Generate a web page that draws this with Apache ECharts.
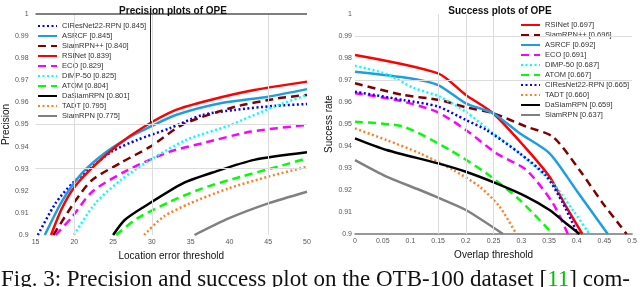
<!DOCTYPE html>
<html><head><meta charset="utf-8">
<script src="https://cdn.jsdelivr.net/npm/echarts@6/dist/echarts.min.js"></script>
<style>html,body{margin:0;padding:0;background:#fff}#c{width:640px;height:287px}</style>
</head><body><div id="c"></div>
<script>
// ---------- Precision plot data (x = location error threshold, y = precision) ----------
const precNames = ['CIResNet22-RPN [0.845]','ASRCF [0.845]','SiamRPN++ [0.840]','RSINet [0.839]','ECO [0.829]','DiMP-50 [0.825]','ATOM [0.804]','DaSiamRPN [0.801]','TADT [0.795]','SiamRPN [0.775]'];
const precX_CIRes = [15.3,17.6,19.75,21.8,24.8,28.1,32.3,36.5,40.7,45.7,50];
const precY_CIRes = [0.9,0.9145,0.9234,0.9294,0.9377,0.943,0.9483,0.9543,0.9566,0.9584,0.9593];
const precX_ASRCF = [16.2,18.5,21.0,23.9,26.9,29.8,33.1,39.0,45.0,50];
const precY_ASRCF = [0.9,0.9158,0.928,0.937,0.9439,0.949,0.9543,0.9597,0.9626,0.966];
const precX_SiamPP = [17.3,20.2,22.3,26.0,29.8,34.1,40.7,46.2,50];
const precY_SiamPP = [0.9,0.9158,0.9249,0.9327,0.94,0.9502,0.958,0.9618,0.9634];
const precX_RSINet = [17.0,18.3,19.75,21.8,25.6,29.0,33.1,37.4,43.2,50];
const precY_RSINet = [0.9,0.9113,0.9204,0.9287,0.9407,0.949,0.9566,0.961,0.9656,0.9694];
const precX_ECO = [17.6,19.75,22.3,26.9,32.3,36.5,42.8,50];
const precY_ECO = [0.9,0.9083,0.9196,0.9294,0.9377,0.9415,0.9468,0.9498];
const precX_DiMP = [19.95,22.7,26.0,29.8,34.4,39.9,45.7,50];
const precY_DiMP = [0.9,0.9143,0.9249,0.934,0.943,0.9495,0.958,0.9634];
const precX_ATOM = [25.4,28.1,32.3,36.5,41.5,46.2,50];
const precY_ATOM = [0.9,0.9075,0.915,0.9211,0.9264,0.9309,0.9347];
const precX_DaSiam = [25.0,26.5,29.0,34.0,38.2,43.2,50];
const precY_DaSiam = [0.9,0.9068,0.9128,0.9234,0.9287,0.934,0.9374];
const precX_TADT = [29.0,31.5,34.9,39.9,45,50];
const precY_TADT = [0.9,0.9083,0.9143,0.9211,0.9264,0.9309];
const precX_SiamRPN = [35.5,39.9,45,50];
const precY_SiamRPN = [0.9,0.9075,0.9143,0.9196];

// ---------- Success plot data (x = overlap threshold, y = success rate) ----------
const succNames = ['RSINet [0.697]','SiamRPN++ [0.696]','ASRCF [0.692]','ECO [0.691]','DiMP-50 [0.687]','ATOM [0.667]','CIResNet22-RPN [0.665]','TADT [0.660]','DaSiamRPN [0.659]','SiamRPN [0.637]'];
const succX_RSINet = [0,0.15,0.2,0.249,0.303,0.351,0.381,0.41];
const succY_RSINet = [0.9814,0.973,0.9632,0.9549,0.9405,0.926,0.9124,0.9];
const succX_SiamPP = [0,0.087,0.153,0.2,0.249,0.309,0.357,0.405,0.447,0.48,0.49];
const succY_SiamPP = [0.9685,0.9632,0.9609,0.9576,0.9549,0.9488,0.9442,0.9291,0.914,0.9033,0.9];
const succX_ASRCF = [0,0.099,0.15,0.2,0.249,0.297,0.351,0.399,0.456];
const succY_ASRCF = [0.9738,0.9708,0.9677,0.9594,0.9549,0.9458,0.9367,0.92,0.9];
const succX_ECO = [0,0.075,0.147,0.2,0.255,0.309,0.357,0.384];
const succY_ECO = [0.964,0.9609,0.9556,0.9473,0.9367,0.9291,0.914,0.9];
const succX_DiMP = [0,0.057,0.105,0.153,0.2,0.249,0.297,0.357,0.393,0.423];
const succY_DiMP = [0.9765,0.9727,0.9665,0.9624,0.9555,0.9458,0.9367,0.923,0.9109,0.9];
const succX_ATOM = [0,0.087,0.171,0.237,0.297,0.357];
const succY_ATOM = [0.951,0.9488,0.9382,0.9276,0.9155,0.9];
const succX_CIRes = [0,0.087,0.15,0.2,0.237,0.297,0.345,0.375,0.402];
const succY_CIRes = [0.9647,0.9609,0.9579,0.9518,0.9473,0.9367,0.9264,0.914,0.9];
const succX_TADT = [0,0.057,0.117,0.177,0.225,0.261,0.291];
const succY_TADT = [0.948,0.9427,0.9367,0.9291,0.9215,0.9124,0.9];
const succX_DaSiam = [0,0.057,0.15,0.2,0.255,0.309,0.351,0.381,0.405];
const succY_DaSiam = [0.9435,0.9382,0.9321,0.9283,0.923,0.917,0.9109,0.9048,0.9];
const succX_SiamRPN = [0,0.057,0.117,0.153,0.2,0.267];
const succY_SiamRPN = [0.9336,0.9261,0.92,0.9162,0.9109,0.9];

// gridline positions seen in the reference
const precGridX = [20,30,45];
const precGridY = [0.95,0.93];
const succGridX = [0.15,0.2,0.25];
const succGridY = [0.99,0.97];

// ---------- styles ----------
const STY = {
  'CIResNet22-RPN': {c:'#0000ff', d:[2,2.5]},
  'ASRCF': {c:'#1c9fe2', d:'solid'},
  'SiamRPN++': {c:'#800000', d:[8,5]},
  'RSINet': {c:'#ff0000', d:'solid'},
  'ECO': {c:'#ff00ff', d:[8,5]},
  'DiMP-50': {c:'#00ffff', d:[2,2.5]},
  'ATOM': {c:'#00ff00', d:[8,5]},
  'DaSiamRPN': {c:'#000000', d:'solid'},
  'TADT': {c:'#ff7f27', d:[2,2.5]},
  'SiamRPN': {c:'#808080', d:'solid'}
};
function zip(xs, ys){ return xs.map((x,i)=>[x,ys[i]]); }
function mk(name, xs, ys, gi){
  const base = name.split(' [')[0];
  const s = STY[base];
  return {name, type:'line', xAxisIndex:gi, yAxisIndex:gi, data:zip(xs,ys), showSymbol:false, symbol:'none',
    smooth:0.25, clip:true, z:3,
    lineStyle:{color:s.c, width:2.5, type:s.d}, itemStyle:{color:s.c}};
}
const precSeries = [
  mk(precNames[0], precX_CIRes, precY_CIRes, 0),
  mk(precNames[1], precX_ASRCF, precY_ASRCF, 0),
  mk(precNames[2], precX_SiamPP, precY_SiamPP, 0),
  mk(precNames[3], precX_RSINet, precY_RSINet, 0),
  mk(precNames[4], precX_ECO, precY_ECO, 0),
  mk(precNames[5], precX_DiMP, precY_DiMP, 0),
  mk(precNames[6], precX_ATOM, precY_ATOM, 0),
  mk(precNames[7], precX_DaSiam, precY_DaSiam, 0),
  mk(precNames[8], precX_TADT, precY_TADT, 0),
  mk(precNames[9], precX_SiamRPN, precY_SiamRPN, 0)
];
const succSeries = [
  mk(succNames[0], succX_RSINet, succY_RSINet, 1),
  mk(succNames[1], succX_SiamPP, succY_SiamPP, 1),
  mk(succNames[2], succX_ASRCF, succY_ASRCF, 1),
  mk(succNames[3], succX_ECO, succY_ECO, 1),
  mk(succNames[4], succX_DiMP, succY_DiMP, 1),
  mk(succNames[5], succX_ATOM, succY_ATOM, 1),
  mk(succNames[6], succX_CIRes, succY_CIRes, 1),
  mk(succNames[7], succX_TADT, succY_TADT, 1),
  mk(succNames[8], succX_DaSiam, succY_DaSiam, 1),
  mk(succNames[9], succX_SiamRPN, succY_SiamRPN, 1)
];
const gridLS = {color:'#dcdcdc', width:1, type:'solid'};
const precDecor = {type:'line', xAxisIndex:0, yAxisIndex:0, data:[[15,0.9]], showSymbol:false, symbol:'none', z:1, silent:true,
  lineStyle:{opacity:0},
  markLine:{silent:true, symbol:['none','none'], label:{show:false}, animation:false, lineStyle:gridLS,
    data:[...precGridX.map(v=>({xAxis:v})), ...precGridY.map(v=>({yAxis:v})),
      {yAxis:1, lineStyle:{color:'#555', width:1.5, type:'solid'}},
      [{coord:[29.75,1], lineStyle:{color:'#222', width:1, type:'solid'}},{coord:[29.75,0.951]}]
    ]}};
const succDecor = {type:'line', xAxisIndex:1, yAxisIndex:1, data:[[0,0.9]], showSymbol:false, symbol:'none', z:1, silent:true,
  lineStyle:{opacity:0},
  markLine:{silent:true, symbol:['none','none'], label:{show:false}, animation:false, lineStyle:gridLS,
    data:[...succGridX.map(v=>({xAxis:v})), ...succGridY.map(v=>({yAxis:v}))]}};

const fmt = v => String(+(+v).toFixed(2));
const axLbl = {fontSize:7, color:'#555', fontFamily:'Liberation Sans'};
const nameTS = {fontSize:10, color:'#111', fontFamily:'Liberation Sans'};
const legTS = {fontSize:7.5, color:'#333', fontFamily:'Liberation Sans'};
const titleTS = {fontSize:10, fontWeight:'bold', color:'#111', fontFamily:'Liberation Sans'};

const chart = echarts.init(document.getElementById('c'), null, {renderer:'canvas'});
chart.setOption({
  animation:false,
  backgroundColor:'#fff',
  title:[
    {text:'Precision plots of OPE', left:168, top:1, textAlign:'center', textStyle:titleTS},
    {text:'Success plots of OPE', left:495, top:1, textAlign:'center', textStyle:titleTS}
  ],
  grid:[
    {left:29, right:333, top:14, bottom:52},
    {left:355, right:7, top:14, bottom:53}
  ],
  xAxis:[
    {gridIndex:0, type:'value', min:15, max:50, interval:5, name:'Location error threshold', nameLocation:'middle', nameGap:11, nameTextStyle:nameTS,
      axisLine:{show:false}, axisTick:{show:false}, splitLine:{show:false}, axisLabel:{...axLbl, margin:4, formatter:fmt}},
    {gridIndex:1, type:'value', min:0, max:0.5, interval:0.05, name:'Overlap threshold', nameLocation:'middle', nameGap:11, nameTextStyle:nameTS,
      axisLine:{show:true, lineStyle:{color:'#777', width:1.5}}, axisTick:{show:false}, splitLine:{show:false}, axisLabel:{...axLbl, margin:4, formatter:fmt}}
  ],
  yAxis:[
    {gridIndex:0, type:'value', min:0.9, max:1, interval:0.01, name:'Precision', nameLocation:'middle', nameGap:12, nameTextStyle:nameTS,
      axisLine:{show:false}, axisTick:{show:false}, splitLine:{show:false}, axisLabel:{...axLbl, margin:7, formatter:fmt}},
    {gridIndex:1, type:'value', min:0.9, max:1, interval:0.01, name:'Success rate', nameLocation:'middle', nameGap:9, nameTextStyle:nameTS,
      axisLine:{show:false}, axisTick:{show:false}, splitLine:{show:false}, axisLabel:{...axLbl, margin:3, formatter:fmt}}
  ],
  legend:[
    {data:precNames, orient:'vertical', left:37, top:22, itemWidth:19, itemHeight:8, itemGap:2, textStyle:legTS, selectedMode:false, padding:0, itemStyle:{opacity:0}},
    {data:succNames, orient:'vertical', left:520, top:21, itemWidth:19, itemHeight:8, itemGap:2, textStyle:legTS, selectedMode:false, padding:0, itemStyle:{opacity:0}}
  ],
  graphic:[
    {type:'text', left:1, top:268, silent:true, style:{
      text:'Fig. 3: Precision and success plot on the OTB-100 dataset [{g|11}] com-',
      font:'23px "Liberation Serif"', fill:'#111',
      rich:{g:{fill:'#00c000', font:'23px "Liberation Serif"'}}
    }}
  ],
  series:[precDecor, succDecor, ...precSeries, ...succSeries]
});
</script></body></html>
